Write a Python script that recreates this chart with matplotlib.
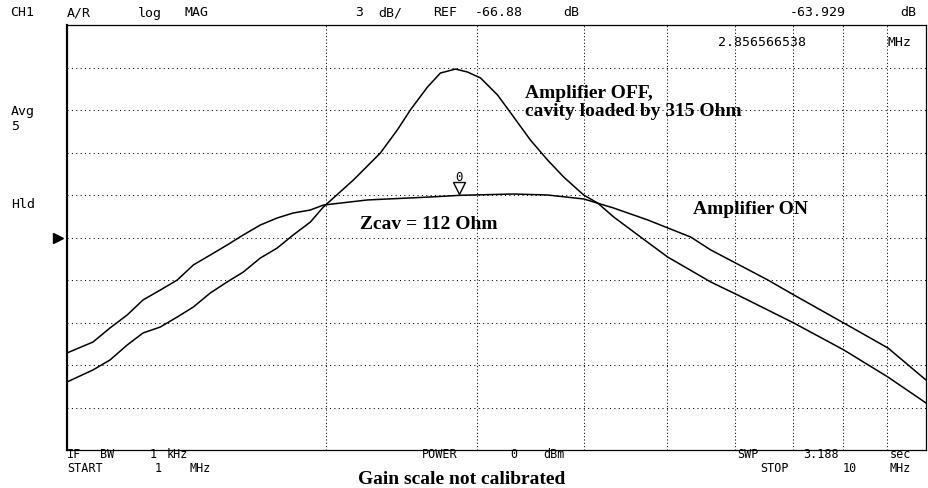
import numpy as np
import matplotlib
matplotlib.use('Agg')
import matplotlib.pyplot as plt
import matplotlib.transforms as mtransforms

"""
    Network analyzer screen: A/R log MAG, 3 dB/div, ref -66.88 dB,
    sweep 1 MHz -> 10 MHz (log), two traces read off the screenshot
"""

ref_db = -66.88
db_per_div = 3.0
f_start = 1.0
f_stop = 10.0

# Amplifier ON trace (Zcav = 112 Ohm)
f_on = [1.000, 1.072, 1.122, 1.175, 1.226, 1.284, 1.344, 1.403, 1.468, 1.536,
        1.604, 1.679, 1.757, 1.834, 1.920, 1.988, 2.237, 2.649, 2.871, 3.311,
        3.626, 3.995, 4.329, 4.742, 5.323, 5.616, 5.972, 6.545, 7.019, 8.024,
        9.031, 10.00]
db_on = [-75.03, -74.26, -73.27, -72.35, -71.29, -70.59, -69.88, -68.82, -68.12, -67.41,
         -66.70, -66.00, -65.50, -65.15, -64.94, -64.59, -64.23, -64.02, -63.90, -63.81,
         -63.88, -64.16, -64.80, -65.64, -66.85, -67.76, -68.61, -69.88, -70.94, -72.92,
         -74.68, -76.94]

# Amplifier OFF trace (cavity loaded by 315 Ohm)
f_off = [1.000, 1.072, 1.122, 1.175, 1.226, 1.284, 1.344, 1.403, 1.468, 1.536,
         1.604, 1.679, 1.757, 1.834, 1.920, 1.988, 2.155, 2.316, 2.424, 2.510,
         2.628, 2.721, 2.833, 2.926, 3.030, 3.171, 3.311, 3.463, 3.626, 3.786,
         3.995, 4.148, 4.329, 4.654, 5.004, 5.616, 6.037, 7.019, 8.024, 9.031,
         10.00]
db_off = [-77.08, -76.23, -75.53, -74.47, -73.62, -73.20, -72.49, -71.79, -70.80, -70.02,
          -69.32, -68.33, -67.62, -66.70, -65.79, -64.73, -62.82, -60.92, -59.29, -57.88,
          -56.26, -55.27, -54.99, -55.20, -55.62, -56.82, -58.37, -60.00, -61.41, -62.61,
          -63.88, -64.45, -65.43, -66.85, -68.26, -70.02, -70.94, -72.92, -74.82, -76.73,
          -78.56]

marker_f = 2.856566538
marker_db = -63.929

W, H = 929, 488
fig = plt.figure(figsize=(W / 100, H / 100), dpi=100)
fig.patch.set_facecolor('white')

# plot box in pixels: x 67..926, y 25..450
ax = fig.add_axes([67 / W, 1 - 450 / H, (926 - 67) / W, (450 - 25) / H])
ax.set_xscale('log')
ax.set_xlim(f_start, f_stop)
ax.set_ylim(ref_db - 5 * db_per_div, ref_db + 5 * db_per_div)
ax.set_xticks([])
ax.set_yticks([])
ax.xaxis.set_minor_locator(matplotlib.ticker.NullLocator())

for s in ax.spines.values():
    s.set_color('black')
    s.set_linewidth(0.9)
ax.spines['left'].set_linewidth(1.6)

# dotted graticule
for f in range(2, 10):
    ax.axvline(f, color='black', lw=0.75, ls=(0, (1, 2.2)), zorder=1)
for k in range(-4, 5):
    ax.axhline(ref_db + k * db_per_div, color='black', lw=0.75, ls=(0, (1, 3.2)), zorder=1)

ax.plot(f_on, db_on, color='black', lw=1.1, zorder=3)
ax.plot(f_off, db_off, color='black', lw=1.1, zorder=3)

# marker 0
off = mtransforms.offset_copy(ax.transData, fig=fig, x=0, y=8, units='dots')
ax.plot([marker_f], [marker_db], marker='v', ms=9, mfc='white', mec='black',
        mew=1.0, transform=off, zorder=4, clip_on=False)
ax.text(marker_f, marker_db + 1.3, '0', ha='center', va='center',
        family='DejaVu Sans Mono', fontsize=9)

# reference position arrow
bt = mtransforms.blended_transform_factory(ax.transAxes, ax.transData)
ax.plot([-0.011], [ref_db], marker='>', ms=7, color='black', transform=bt, clip_on=False)

# annotations written on the screen
serif = dict(family='Liberation Serif', fontweight='bold', fontsize=14, color='black')
fig.text(525 / W, 1 - 94 / H, 'Amplifier OFF,', va='center', ha='left', **serif)
fig.text(525 / W, 1 - 112 / H, 'cavity loaded by 315 Ohm', va='center', ha='left', **serif)
fig.text(693 / W, 1 - 210 / H, 'Amplifier ON', va='center', ha='left', **serif)
fig.text(360 / W, 1 - 224 / H, 'Zcav = 112 Ohm', va='center', ha='left', **serif)
fig.text(358 / W, 1 - 479 / H, 'Gain scale not calibrated', va='center', ha='left', **serif)

# instrument text (placed word by word)
mono = dict(family='DejaVu Sans Mono', color='black', va='center')
words = [
    ('CH1', 10, 13), ('A/R', 67, 13), ('log', 138, 13), ('MAG', 185, 13),
    ('3', 355, 13), ('dB/', 378, 13), ('REF', 433, 13), ('-66.88', 475, 13), ('dB', 563, 13),
    ('-63.929', 790, 13), ('dB', 900, 13),
    ('2.856566538', 718, 42), ('MHz', 888, 42),
    ('Avg', 11, 112), ('5', 11, 127), ('Hld', 11, 204),
]
bottom_words = [
    ('IF', 67, 455), ('BW', 100, 455), ('1', 150, 455), ('kHz', 167, 455),
    ('START', 67, 468), ('1', 155, 468), ('MHz', 190, 468),
    ('POWER', 422, 455), ('0', 510, 455), ('dBm', 543, 455),
    ('SWP', 737, 455), ('3.188', 803, 455), ('sec', 890, 455),
    ('STOP', 760, 468), ('10', 843, 468), ('MHz', 890, 468),
]
for txt, x, y in words:
    fig.text(x / W, 1 - y / H, txt, ha='left', fontsize=9.5, **mono)
for txt, x, y in bottom_words:
    fig.text(x / W, 1 - y / H, txt, ha='left', fontsize=8.5, **mono)

plt.savefig('out.png', dpi=100, facecolor='white')
